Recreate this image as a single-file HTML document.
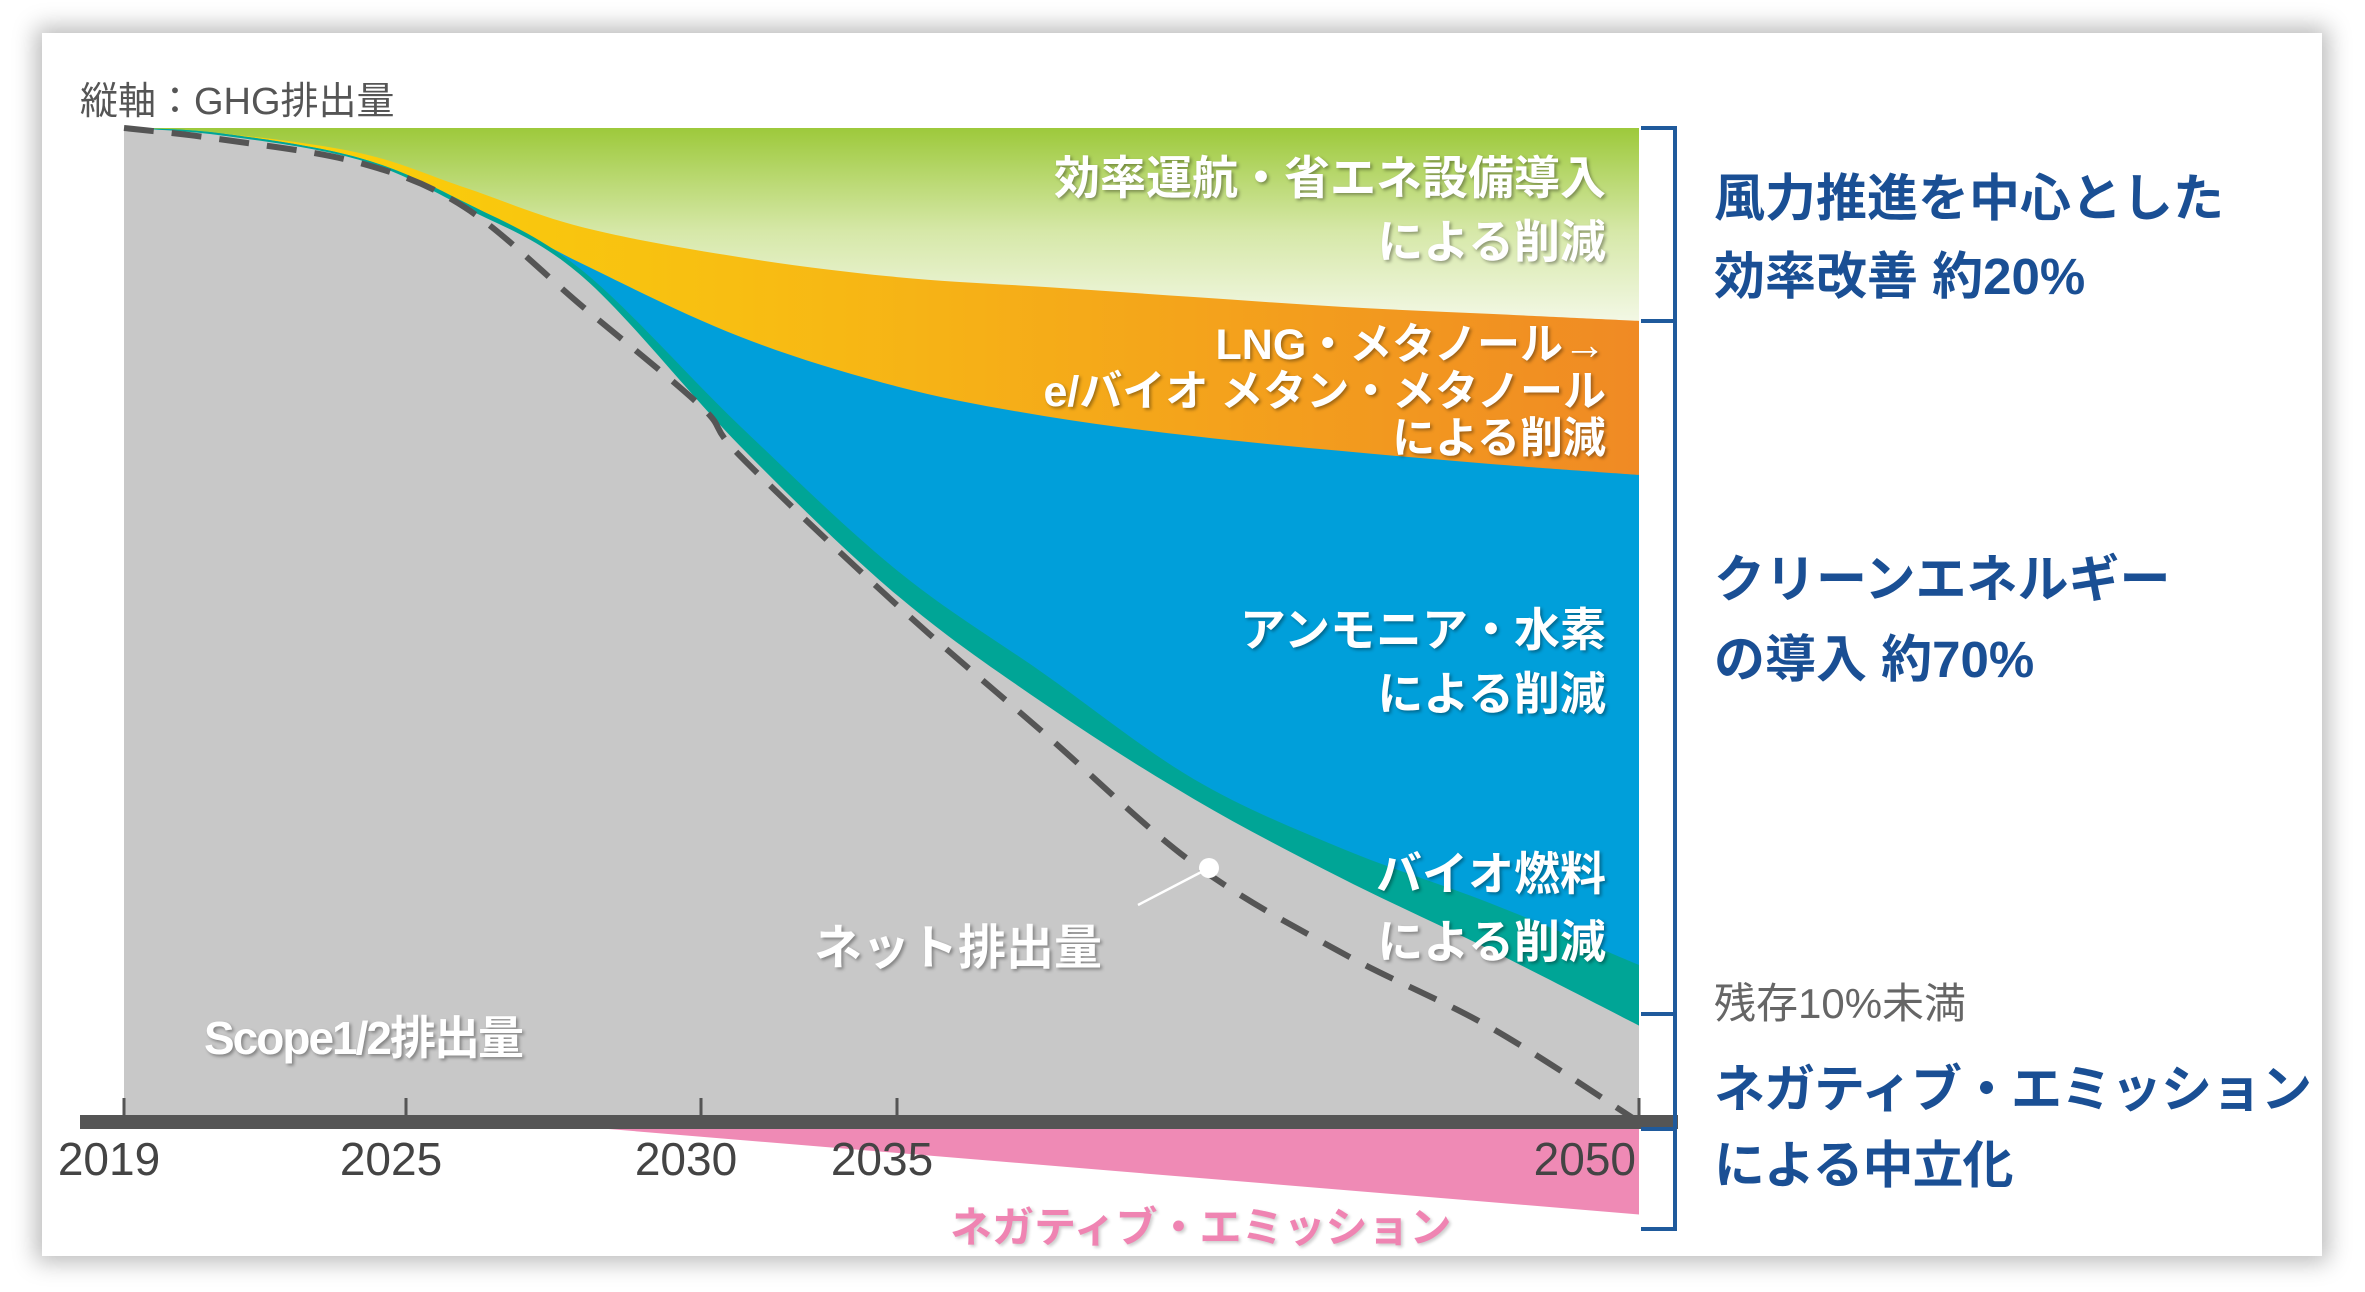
<!DOCTYPE html>
<html><head><meta charset="utf-8"><style>
html,body{margin:0;padding:0;background:#fff;}
body{width:2365px;height:1292px;position:relative;overflow:hidden;font-family:"Liberation Sans","Noto Sans CJK JP",sans-serif;}
#card{position:absolute;left:42px;top:33px;width:2280px;height:1223px;background:#fff;box-shadow:0 0 22px 6px rgba(0,0,0,0.28);}
svg{position:absolute;left:0;top:0;}
.t{position:absolute;white-space:nowrap;font-family:"Liberation Sans","Noto Sans CJK JP",sans-serif;}
.in{color:#fff;font-weight:bold;text-align:right;text-shadow:2px 2px 3px rgba(0,0,0,0.35);}
.blue{color:#1a4f94;font-weight:bold;font-size:51px;}
</style></head><body>
<div id="card"></div>
<svg id="chart" width="2365" height="1292">
<defs>
<linearGradient id="gGreen" gradientUnits="userSpaceOnUse" x1="0" y1="128" x2="0" y2="335">
<stop offset="0" stop-color="#9dc93b"/><stop offset="0.5" stop-color="#d6e8a8"/><stop offset="1" stop-color="#f7faee"/></linearGradient>
<linearGradient id="gOrange" x1="0" y1="0" x2="1" y2="0">
<stop offset="0" stop-color="#fbd806"/><stop offset="0.4" stop-color="#f8be12"/><stop offset="1" stop-color="#f08a24"/></linearGradient>
</defs>
</svg>
<div class="t" style="left:80px;top:70px;font-size:38px;color:#555;">縦軸：GHG排出量</div>
<div class="t in" style="right:759px;top:146px;font-size:46px;line-height:64px;">効率運航・省エネ設備導入<br>による削減</div>
<div class="t in" style="right:759px;top:322px;font-size:43px;line-height:47px;">LNG・メタノール→<br>e/バイオ メタン・メタノール<br>による削減</div>
<div class="t in" style="right:759px;top:598px;font-size:46px;line-height:64px;">アンモニア・水素<br>による削減</div>
<div class="t in" style="right:759px;top:840px;font-size:46px;line-height:68px;">バイオ燃料<br>による削減</div>
<div class="t in" style="left:814px;top:908px;font-size:48px;text-align:left;">ネット排出量</div>
<div class="t in" style="left:204px;top:1002px;font-size:46px;text-align:left;letter-spacing:-2px;">Scope1/2排出量</div>
<div class="t" style="left:950px;top:1194px;font-size:42px;font-weight:bold;color:#ef84b2;text-shadow:2px 2px 3px rgba(0,0,0,0.2);">ネガティブ・エミッション</div>
<div class="t blue" style="left:1714px;top:160px;line-height:78px;">風力推進を中心とした<br>効率改善 約20%</div>
<div class="t blue" style="left:1714px;top:540px;line-height:80px;">クリーンエネルギー<br>の導入 約70%</div>
<div class="t" style="left:1714px;top:970px;font-size:42px;color:#666;">残存10%未満</div>
<div class="t blue" style="left:1714px;top:1052px;line-height:76px;letter-spacing:-1px;">ネガティブ・エミッション<br>による中立化</div>
<script>
const years=[2019,2021,2024,2026,2028,2031,2035,2038,2041,2044,2047,2050];
const orangeTop=[100,99.5,97.5,94,90,87,85,84,83,82,81.3,80.6];
const blueTop=[100,99.5,97,92.5,86.3,79,74,71,69,67.5,66.2,65.1];
const tealTop=[100,99.5,97,92.5,85.6,70,55.5,45,34.5,27.5,22,15.8];
const grayTop=[100,99.3,96.8,92,85,68,53,42,32.5,24.5,17.3,9.7];
const netYears=[2019,2021,2024,2026,2028,2030,2031,2035,2038,2041,2044,2047,2050];
const netValues=[100,98.9,96.5,92,82,72,67,52,39,26,17,9.5,0];
const negYears=[2027,2050];
const negValues=[0,-9.3];
const tickYears=[2019,2025,2030,2035,2050];
const tickLabels=["2019","2025","2030","2035","2050"];
const tickPx=[124,406,701,897,1639];
function x(yr){for(let i=0;i<tickYears.length-1;i++){if(yr<=tickYears[i+1]||i==tickYears.length-2){const a=tickYears[i],b=tickYears[i+1];return tickPx[i]+(yr-a)/(b-a)*(tickPx[i+1]-tickPx[i]);}}}
function y(v){return 1122-v/100*994;}
const NS="http://www.w3.org/2000/svg";const svg=document.getElementById('chart');
function curve(xs,vs){const p=xs.map((a,i)=>[x(a),y(vs[i])]);let d="M"+p[0][0]+","+p[0][1];
for(let i=0;i<p.length-1;i++){const p0=p[Math.max(i-1,0)],p1=p[i],p2=p[i+1],p3=p[Math.min(i+2,p.length-1)];
const c1=[p1[0]+(p2[0]-p0[0])/6,p1[1]+(p2[1]-p0[1])/6],c2=[p2[0]-(p3[0]-p1[0])/6,p2[1]-(p3[1]-p1[1])/6];
d+=" C"+c1[0]+","+c1[1]+" "+c2[0]+","+c2[1]+" "+p2[0]+","+p2[1];}return d;}
function mk(tag,attrs){const e=document.createElementNS(NS,tag);for(const k in attrs)e.setAttribute(k,attrs[k]);svg.appendChild(e);return e;}
function area(vals,fill,name){const d=curve(years,vals)+" L"+x(years[years.length-1])+","+y(0)+" L"+x(years[0])+","+y(0)+" Z";
const e=mk('path',{d:d,fill:fill});

}
const g=mk('rect',{x:x(2019),y:y(100),width:x(2050)-x(2019),height:y(0)-y(100),fill:'url(#gGreen)'});


area(orangeTop,'url(#gOrange)','area-lng-methanol');
area(blueTop,'#009fda','area-ammonia-hydrogen');
area(tealTop,'#00a596','area-biofuel');
area(grayTop,'#c8c8c8','area-scope12');
const neg=mk('polygon',{points:x(negYears[0])+","+y(negValues[0])+" "+x(negYears[1])+","+y(0)+" "+x(negYears[1])+","+y(negValues[1]),fill:'#ef8ab5'});


const net=mk('path',{d:curve(netYears,netValues),fill:'none',stroke:'#555','stroke-width':6,'stroke-dasharray':'30 18'});


const ld=mk('line',{x1:1138,y1:905,x2:1209,y2:868,stroke:'#fff','stroke-width':2.5});


const dot=mk('circle',{cx:1209,cy:868,r:10,fill:'#fff'});


tickYears.forEach((t,i)=>{const tk=mk('line',{x1:x(t),y1:1098,x2:x(t),y2:1116,stroke:'#555','stroke-width':3});


const tx=mk('text',{x:(i==tickYears.length-1?x(t)-3:x(t)-15),y:1175,'font-size':46,fill:'#444','font-family':'"Liberation Sans Narrow","Liberation Sans",sans-serif','text-anchor':(i==tickYears.length-1?'end':'middle')});
tx.textContent=tickLabels[i];

});
const ax=mk('rect',{x:80,y:1115,width:1598,height:14,fill:'#555'});


const br=mk('path',{d:"M1641,128 H1675 V1229 H1641 M1641,321 H1675 M1641,1014 H1675 M1641,1129 H1675",fill:'none',stroke:'#1f5a9c','stroke-width':4});


</script>
</body></html>
